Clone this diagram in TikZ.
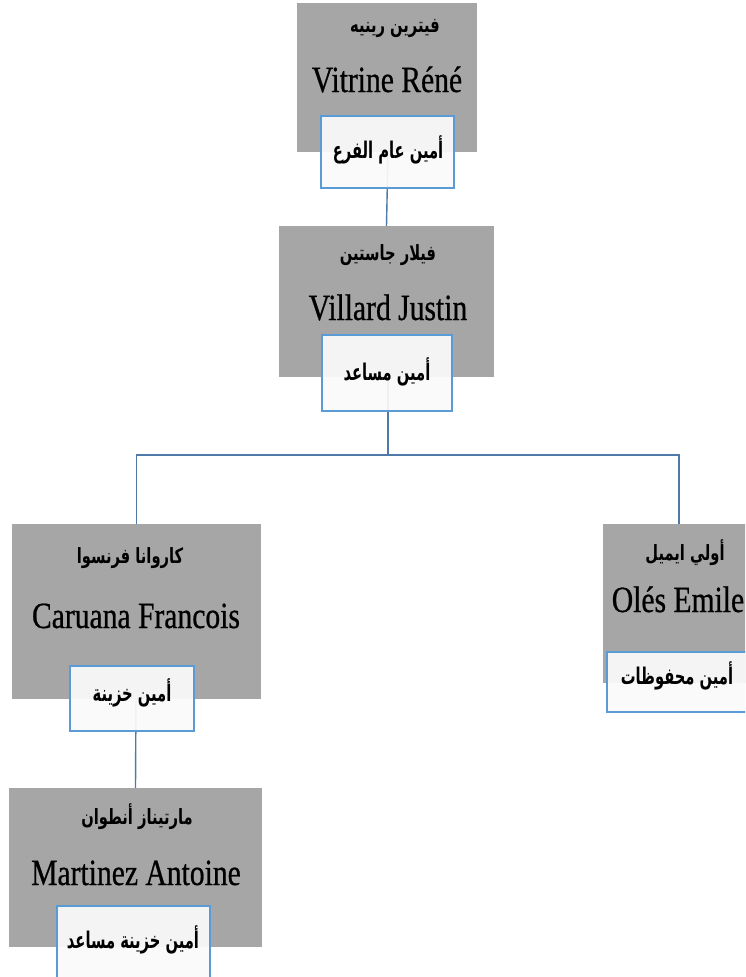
\documentclass[tikz,border=0pt]{standalone}
\usepackage{fontspec}
\setmainfont{Liberation Serif}
\newfontfamily\latinf[FakeStretch=0.8,FakeBold=0.6]{Liberation Serif}
\newfontfamily\arabicfont[Script=Arabic,FakeStretch=0.7]{DejaVu Sans}
\newfontfamily\arabicrole[Script=Arabic,FakeStretch=0.64]{DejaVu Sans}
\TeXXeTstate=1
\definecolor{boxgray}{HTML}{A6A6A6}
\definecolor{boxline}{HTML}{5B9BD5}
\definecolor{conn}{HTML}{4F7AA8}
\definecolor{rolefill}{HTML}{FAFAFA}
\tikzset{
  graybox/.style={rectangle, fill=boxgray, draw=none, inner sep=0pt},
  rolebox/.style={rectangle, fill=rolefill, fill opacity=0.93, draw=boxline, line width=1.4pt, inner sep=0pt, text opacity=1},
  latinname/.style={anchor=base, inner sep=0pt, font=\latinf\fontsize{37}{37}\selectfont},
  arname/.style={inner sep=0pt, font=\arabicfont\bfseries\fontsize{21}{21}\selectfont},
  arrole/.style={inner sep=0pt, font=\arabicrole\bfseries\fontsize{23}{23}\selectfont},
  connector/.style={draw=conn, line width=1.4pt}
}
\begin{document}
\begin{tikzpicture}[x=1pt,y=-1pt]
\useasboundingbox (0,0) rectangle (745,977);
\clip (0,0) rectangle (745,977);
\fill[white] (0,0) rectangle (745,977);
% gray boxes
\node[graybox, minimum width=180pt, minimum height=149pt] (g1) at (387,77.5) {};
\node[graybox, minimum width=215pt, minimum height=151pt] (g2) at (386.5,301.5) {};
\node[graybox, minimum width=249pt, minimum height=175pt] (g3) at (136.5,611.5) {};
\node[graybox, minimum width=167pt, minimum height=159pt] (g4) at (686.5,603.5) {};
\node[graybox, minimum width=253pt, minimum height=159pt] (g5) at (135.5,867.5) {};
% junction coordinates
\coordinate (j) at (388,455);
\coordinate (r) at (679,524);
\coordinate (w1c) at (388,152);
\coordinate (w2c) at (388,373);
\coordinate (w3c) at (136,698);
% connectors
\draw[connector] (w1c) -- (g2.north);
\draw[connector] (w2c) -- (j) -| (g3.north);
\draw[connector] (j) -| (r);
\draw[connector] (w3c) -- (g5.north);
% names
\node[latinname] (n1) at (387,92) {Vitrine Réné};
\node[latinname] (n2) at (388,320) {Villard Justin};
\node[latinname] (n3) at (136,628) {Caruana Francois};
\node[latinname] (n4) at (678,612) {Olés Emile};
\node[latinname] (n5) at (136,885) {Martinez Antoine};
\node[arname] (a1) at (395,28) {\beginR فيترين رينيه\endR};
\node[arname] (a2) at (388,255) {\beginR فيلار جاستين\endR};
\node[arname] (a3) at (130,558) {\beginR كاروانا فرنسوا\endR};
\node[arname] (a4) at (685,553) {\beginR أولي ايميل\endR};
\node[arname] (a5) at (137,817) {\beginR مارتيناز أنطوان\endR};
% role boxes
\node[rolebox, minimum width=133pt, minimum height=72pt] (w1) at (387.5,152) {};
\node[rolebox, minimum width=130pt, minimum height=76pt] (w2) at (387,373) {};
\node[rolebox, minimum width=124pt, minimum height=65pt] (w3) at (132,698.5) {};
\node[rolebox, minimum width=140pt, minimum height=60pt] (w4) at (677,682) {};
\node[rolebox, minimum width=153pt, minimum height=94pt] (w5) at (133.5,953) {};
\node[arrole] (r1) at (388,150) {\beginR أمين عام الفرع\endR};
\node[arrole] (r2) at (387,372) {\beginR أمين مساعد\endR};
\node[arrole] (r3) at (132,693) {\beginR أمين خزينة\endR};
\node[arrole] (r4) at (677,676) {\beginR أمين محفوظات\endR};
\node[arrole] (r5) at (133,940) {\beginR أمين خزينة مساعد\endR};
\end{tikzpicture}
\end{document}
